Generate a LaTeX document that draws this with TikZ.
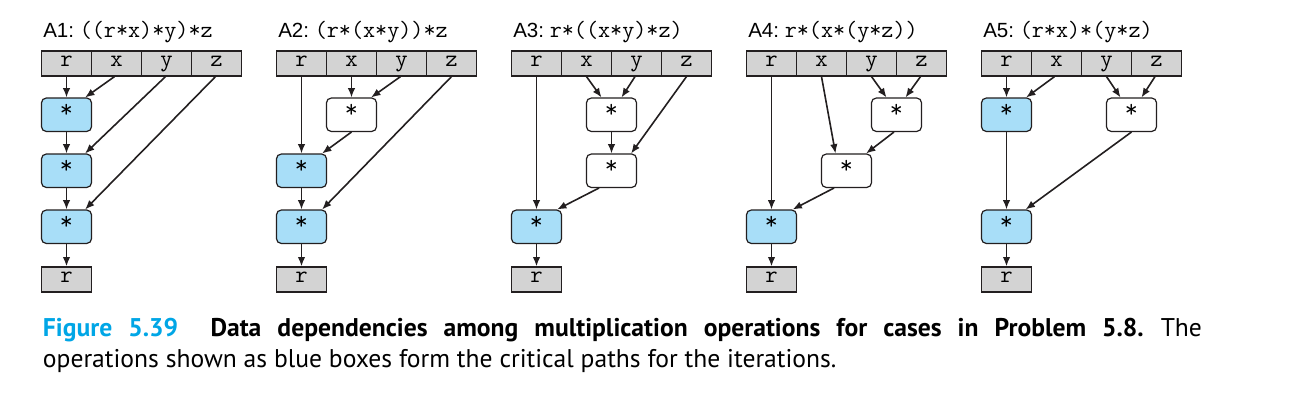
\documentclass[tikz,border=0pt]{standalone}
\usepackage{fontspec}
\usetikzlibrary{arrows.meta,calc}
\newfontfamily\ttlfont{Liberation Sans}
\newcommand\cdefont{\ttfamily}
\newfontfamily\capfont{PT Sans}
\definecolor{cellgray}{RGB}{211,211,211}
\definecolor{opblue}{RGB}{168,222,248}
\definecolor{capblue}{RGB}{0,166,230}
\definecolor{ink}{RGB}{35,31,32}
\tikzset{
 cell/.style={draw=ink, line width=0.9pt, fill=cellgray, minimum width=37.5pt, minimum height=18.75pt, inner sep=0pt, font=\cdefont\fontsize{18}{18}\selectfont, text height=1ex, text depth=0pt},
 opbox/.style={draw=ink, line width=0.9pt, rounded corners=3.5pt, minimum width=37.5pt, minimum height=25pt, inner sep=0pt, font=\cdefont\fontsize{19}{19}\selectfont, text height=0.62em, text depth=0.2em},
 crit/.style={opbox, fill=opblue},
 plainop/.style={opbox, fill=white},
 dep/.style={draw=ink, line width=1.2pt, -{Latex[length=7pt,width=5.6pt]}},
 ttl/.style={anchor=base west, inner sep=0pt, font=\ttlfont\fontsize{15.4}{18}\selectfont},
 capline/.style={anchor=base west, inner sep=0pt, font=\capfont\fontsize{19.2}{22}\selectfont},
}
\newcommand\ttlcode[1]{{\cdefont\fontsize{17.6}{18}\selectfont #1}}
\begin{document}
\frenchspacing
\begin{tikzpicture}[x=0.75pt,y=-0.75pt]
\fill[white] (0,0) rectangle (1299,409);
\useasboundingbox (0,0) rectangle (1299,409);

% ---------- A1 ----------
\begin{scope}[shift={(41.5,0)}]
\node[ttl] (A1t) at (1.5,38) {A1: \ttlcode{((r*x)*y)*z}};
\node[cell] (A1r) at (25,63.5) {r};
\node[cell] (A1x) at (75,63.5) {x};
\node[cell] (A1y) at (125,63.5) {y};
\node[cell] (A1z) at (175,63.5) {z};
\node[crit] (A1m1) at (25,114.75) {*};
\node[crit] (A1m2) at (25,170.75) {*};
\node[crit] (A1m3) at (25,226.75) {*};
\node[cell] (A1o) at (25,279.5) {r};
\draw[dep] (A1r) -- (A1m1);
\draw[dep] ($(A1x.south)+(-2,0)$) -- ($(A1m1.north east)+(-7,0)$);
\draw[dep] ($(A1y.south)+(-1,0)$) -- ($(A1m2.north east)+(-7,0)$);
\draw[dep] ($(A1z.south)+(-1,0)$) -- ($(A1m3.north east)+(-7,0)$);
\draw[dep] (A1m1) -- (A1m2);
\draw[dep] (A1m2) -- (A1m3);
\draw[dep] (A1m3) -- (A1o);
\end{scope}

% ---------- A2 ----------
\begin{scope}[shift={(276.5,0)}]
\node[ttl] (A2t) at (1.5,38) {A2: \ttlcode{(r*(x*y))*z}};
\node[cell] (A2r) at (25,63.5) {r};
\node[cell] (A2x) at (75,63.5) {x};
\node[cell] (A2y) at (125,63.5) {y};
\node[cell] (A2z) at (175,63.5) {z};
\node[plainop] (A2w1) at (75,114.75) {*};
\node[crit] (A2m2) at (25,170.75) {*};
\node[crit] (A2m3) at (25,226.75) {*};
\node[cell] (A2o) at (25,279.5) {r};
\draw[dep] (A2r) -- (A2m2);
\draw[dep] (A2x) -- (A2w1);
\draw[dep] ($(A2y.south)+(-1,0)$) -- ($(A2w1.north east)+(-6,0)$);
\draw[dep] (A2w1.south) -- ($(A2m2.north east)+(-5,0)$);
\draw[dep] (A2z.south) -- ($(A2m3.north east)+(-5,0)$);
\draw[dep] (A2m2) -- (A2m3);
\draw[dep] (A2m3) -- (A2o);
\end{scope}

% ---------- A3 ----------
\begin{scope}[shift={(511.5,0)}]
\node[ttl] (A3t) at (1.5,38) {A3: \ttlcode{r*((x*y)*z)}};
\node[cell] (A3r) at (25,63.5) {r};
\node[cell] (A3x) at (75,63.5) {x};
\node[cell] (A3y) at (125,63.5) {y};
\node[cell] (A3z) at (175,63.5) {z};
\node[plainop] (A3w1) at (100,114.75) {*};
\node[plainop] (A3w2) at (100,170.75) {*};
\node[crit] (A3m3) at (25,226.75) {*};
\node[cell] (A3o) at (25,279.5) {r};
\draw[dep] (A3r) -- (A3m3);
\draw[dep] (A3x.south) -- ($(A3w1.north)+(-10,0)$);
\draw[dep] ($(A3y.south)+(-1.5,0)$) -- ($(A3w1.north)+(10,0)$);
\draw[dep] (A3w1) -- (A3w2);
\draw[dep] (A3z.south) -- ($(A3w2.north east)+(-6,0)$);
\draw[dep] ($(A3w2.south)+(-12.5,0)$) -- ($(A3m3.north east)+(-5,0)$);
\draw[dep] (A3m3) -- (A3o);
\end{scope}

% ---------- A4 ----------
\begin{scope}[shift={(746.5,0)}]
\node[ttl] (A4t) at (1.5,38) {A4: \ttlcode{r*(x*(y*z))}};
\node[cell] (A4r) at (25,63.5) {r};
\node[cell] (A4x) at (75,63.5) {x};
\node[cell] (A4y) at (125,63.5) {y};
\node[cell] (A4z) at (175,63.5) {z};
\node[plainop] (A4w1) at (150,114.75) {*};
\node[plainop] (A4w2) at (100,170.75) {*};
\node[crit] (A4m3) at (25,226.75) {*};
\node[cell] (A4o) at (25,279.5) {r};
\draw[dep] (A4r) -- (A4m3);
\draw[dep] (A4y.south) -- ($(A4w1.north)+(-10,0)$);
\draw[dep] ($(A4z.south)+(-1,0)$) -- ($(A4w1.north)+(9,0)$);
\draw[dep] (A4x.south) -- ($(A4w2.north)+(-11,0)$);
\draw[dep] ($(A4w1.south)+(-2.5,0)$) -- ($(A4w2.north east)+(-6,0)$);
\draw[dep] ($(A4w2.south)+(-12.5,0)$) -- ($(A4m3.north east)+(-4.5,0)$);
\draw[dep] (A4m3) -- (A4o);
\end{scope}

% ---------- A5 ----------
\begin{scope}[shift={(981.5,0)}]
\node[ttl] (A5t) at (1.5,38) {A5: \ttlcode{(r*x)*(y*z)}};
\node[cell] (A5r) at (25,63.5) {r};
\node[cell] (A5x) at (75,63.5) {x};
\node[cell] (A5y) at (125,63.5) {y};
\node[cell] (A5z) at (175,63.5) {z};
\node[crit] (A5m1) at (25,114.75) {*};
\node[plainop] (A5w1) at (150,114.75) {*};
\node[crit] (A5m3) at (25,226.75) {*};
\node[cell] (A5o) at (25,279.5) {r};
\draw[dep] (A5r) -- (A5m1);
\draw[dep] ($(A5x.south)+(-2,0)$) -- ($(A5m1.north east)+(-6,0)$);
\draw[dep] (A5y.south) -- ($(A5w1.north)+(-11,0)$);
\draw[dep] ($(A5z.south)+(-1.5,0)$) -- ($(A5w1.north)+(10,0)$);
\draw[dep] (A5m1) -- (A5m3);
\draw[dep] (A5w1.south) -- ($(A5m3.north east)+(-6.5,0)$);
\draw[dep] (A5m3) -- (A5o);
\end{scope}

% ---------- caption ----------
\node[capline] (cap1) at (42.7,337) {\hbox to 869.25pt{{\bfseries\color{capblue}Figure 5.39}\hspace{0.6em} \textbf{Data dependencies among multiplication operations for cases in Problem 5.8.} The}};
\node[capline] (cap2) at (42.7,368) {operations shown as blue boxes form the critical paths for the iterations.};
\end{tikzpicture}
\end{document}
